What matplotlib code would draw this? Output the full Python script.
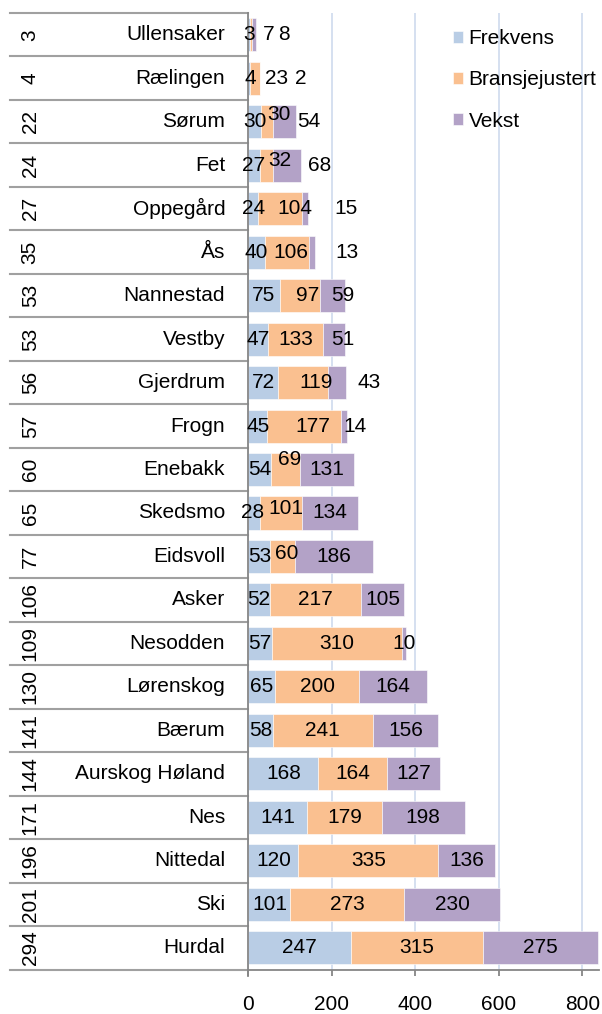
import numpy as np
import matplotlib
matplotlib.use("Agg")
import matplotlib.pyplot as plt

plt.rcParams['font.family'] = ['Liberation Sans', 'DejaVu Sans']

# data, top row first
names = ['Ullensaker', 'Rælingen', 'Sørum', 'Fet', 'Oppegård', 'Ås', 'Nannestad',
         'Vestby', 'Gjerdrum', 'Frogn', 'Enebakk', 'Skedsmo', 'Eidsvoll', 'Asker',
         'Nesodden', 'Lørenskog', 'Bærum', 'Aurskog Høland', 'Nes', 'Nittedal',
         'Ski', 'Hurdal']
ranks = [3, 4, 22, 24, 27, 35, 53, 53, 56, 57, 60, 65, 77, 106, 109, 130, 141,
         144, 171, 196, 201, 294]
frekvens = [3, 4, 30, 27, 24, 40, 75, 47, 72, 45, 54, 28, 53, 52, 57, 65, 58,
            168, 141, 120, 101, 247]
bransje = [7, 23, 30, 32, 104, 106, 97, 133, 119, 177, 69, 101, 60, 217, 310,
           200, 241, 164, 179, 335, 273, 315]
vekst = [8, 2, 54, 68, 15, 13, 59, 51, 43, 14, 131, 134, 186, 105, 10, 164, 156,
         127, 198, 136, 230, 275]
series_names = ['Frekvens', 'Bransjejustert', 'Vekst']
xticks = [0, 200, 400, 600, 800]

colors = ['#B9CDE5', '#FAC090', '#B3A2C7']

# hand-moved data labels (as in the original sheet): (row, series) -> (dx, dy)
label_nudge = {
    (0, 1): (43, 0), (0, 2): (71, 0),
    (1, 0): (3, 0), (1, 1): (52, 0), (1, 2): (98, 0),
    (2, 1): (29, 0.17), (2, 2): (58, 0),
    (3, 1): (33, 0.11), (3, 2): (79, 0),
    (4, 1): (36, 0), (4, 2): (98, 0),
    (5, 1): (8, 0), (5, 2): (84, 0),
    (6, 1): (19, 0), (6, 2): (24, 0),
    (7, 2): (20, 0),
    (8, 1): (32, 0), (8, 2): (78, 0),
    (9, 1): (20, 0), (9, 2): (26, 0),
    (10, 1): (11, 0.22),
    (11, 0): (-3, 0), (11, 1): (11, 0.1),
    (12, 1): (10, 0.07),
}

fig = plt.figure(figsize=(6.02, 10.14), dpi=100)
ax = fig.add_axes([248.3 / 602, 1 - 969.5 / 1014, (599 - 248.3) / 602, (969.5 - 13) / 1014])

y = np.arange(len(names))
data = [frekvens, bransje, vekst]
left = np.zeros(len(names))
for s, vals in enumerate(data):
    vals = np.array(vals, dtype=float)
    ax.barh(y, vals, left=left, height=0.76, color=colors[s], label=series_names[s],
            edgecolor='white', linewidth=0.4, zorder=2)
    for i, v in enumerate(vals):
        dx, dy = label_nudge.get((i, s), (0, 0))
        ax.text(left[i] + v / 2 + dx, i - dy, str(int(v)), ha='center', va='center',
                fontsize=15, color='black', zorder=3)
    left += vals

ax.set_xlim(0, 840)
ax.set_ylim(len(names) - 0.5, -0.5)
ax.set_xticks(xticks)
ax.set_xticklabels([str(t) for t in xticks], fontsize=15)
ax.set_yticks([])
ax.xaxis.grid(True, color='#D5E0F0', linewidth=1.4, zorder=0)
ax.set_axisbelow(True)
for sp in ['top', 'right']:
    ax.spines[sp].set_visible(False)
ax.spines['left'].set_color('#868686')
ax.spines['bottom'].set_color('#868686')
ax.spines['left'].set_linewidth(1.3)
ax.spines['bottom'].set_linewidth(1.3)
ax.tick_params(axis='x', direction='out', length=4, width=1.3, color='#868686', pad=14)

# two-level category table on the left
tr = ax.get_yaxis_transform()
for b in np.arange(len(names) + 1) - 0.5:
    ax.plot([-0.679, 0], [b, b], transform=tr, color='#A0A0A0', lw=1.5, clip_on=False)
ax.plot([0, 0], [len(names) - 0.5, len(names) - 0.35], transform=tr, color='#868686',
        lw=1.3, clip_on=False)
for i, (r, n) in enumerate(zip(ranks, names)):
    ax.text(-0.622, i, str(r), transform=tr, rotation=90, ha='center', va='center',
            fontsize=15)
    ax.text(-0.066, i, n, transform=tr, ha='right', va='center', fontsize=15)

ax.legend(loc='upper left', bbox_to_anchor=(453 / 602, 1 - 29 / 1014),
          bbox_transform=fig.transFigure, frameon=False, fontsize=15,
          handlelength=0.5, handleheight=0.5, handletextpad=0.25,
          labelspacing=1.07, borderpad=0, borderaxespad=0)

fig.savefig('out.png', dpi=100)
